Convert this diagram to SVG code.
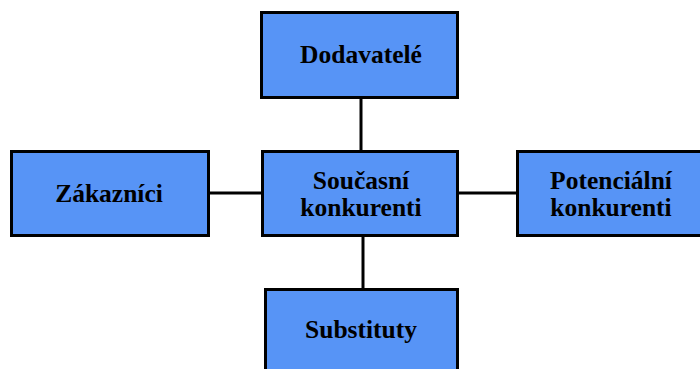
<svg xmlns="http://www.w3.org/2000/svg" width="700" height="369" viewBox="0 0 700 369">
<style>
.box{fill:#5794f6;stroke:#000;stroke-width:3}
.t{font-family:'Liberation Serif','Times New Roman','DejaVu Serif',serif;font-weight:700;font-size:25.5px;fill:#000;text-anchor:middle}
.c{stroke:#000;stroke-width:3;fill:none}
</style>
<rect width="700" height="369" fill="#fff"/>
<g id="connectors">
<line class="c" x1="361" y1="98" x2="361" y2="151"/>
<line class="c" x1="363" y1="236" x2="363" y2="290"/>
<line class="c" x1="209" y1="193" x2="262" y2="193"/>
<line class="c" x1="458" y1="193" x2="517" y2="193"/>
</g>
<g id="dodavatele">
<rect class="box" x="261.5" y="12.5" width="196" height="85"/>
<text class="t" x="361" y="63">Dodavatelé</text>
</g>
<g id="zakaznici">
<rect class="box" x="11.5" y="151.5" width="197" height="84"/>
<text class="t" x="109" y="202">Zákazníci</text>
</g>
<g id="soucasni">
<rect class="box" x="262.5" y="151.5" width="195" height="84"/>
<text class="t" x="361" y="188.5">Současní</text>
<text class="t" x="361" y="216">konkurenti</text>
</g>
<g id="potencialni">
<rect class="box" x="517.5" y="151.5" width="188" height="84"/>
<text class="t" x="611" y="188.5">Potenciální</text>
<text class="t" x="611" y="216">konkurenti</text>
</g>
<g id="substituty">
<rect class="box" x="265.5" y="289.5" width="192" height="90"/>
<text class="t" x="361" y="338">Substituty</text>
</g>
</svg>
